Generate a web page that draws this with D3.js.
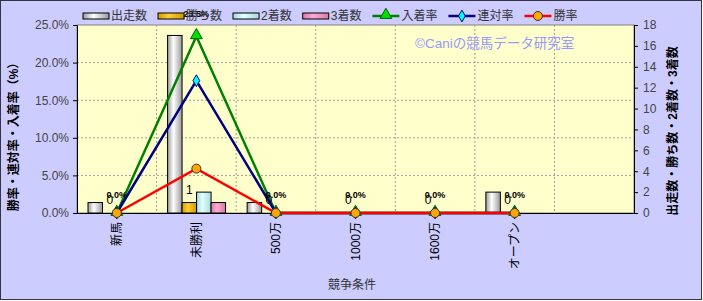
<!DOCTYPE html>
<html>
<head>
<meta charset="utf-8">
<script src="https://cdn.jsdelivr.net/npm/d3@7"></script>
<style>
body{margin:0;background:#fff;}
svg text{font-family:"Liberation Sans","Noto Sans CJK JP",sans-serif;}
</style>
</head>
<body>
<svg id="chart" width="703" height="301"></svg>
<script>
// data
var categories = ["新馬","未勝利","500万","1000万","1600万","オープン",""]
var runs    = [1,17,1,0,0,2]
var wins    = [0,1,0,0,0,0]
var seconds = [0,2,0,0,0,0]
var thirds  = [0,1,0,0,0,0]
var winRate     = [0,5.9,0,0,0,0]
var rentaiRate  = [0,17.6,0,0,0,0]
var placeRate   = [0,23.5,0,0,0,0]
var leftTicks  = [0,5,10,15,20,25]
var rightTicks = [0,2,4,6,8,10,12,14,16,18]

var W = 703, H = 301
var L = 77, R = 634, T = 25, B = 213

var svg = d3.select("#chart")

// gradients for the cylinder bars
var defs = svg.append("defs")
function grad(id, edge, mid){
	var g = defs.append("linearGradient").attr("id",id)
		.attr("x1","0%").attr("x2","100%").attr("y1","0%").attr("y2","0%")
	g.append("stop").attr("offset","0%").attr("stop-color",edge)
	g.append("stop").attr("offset","40%").attr("stop-color",mid)
	g.append("stop").attr("offset","100%").attr("stop-color",edge)
}
grad("gRuns","#9a9a9a","#ffffff")
grad("gWins","#d09a00","#ffd030")
grad("gSec","#a8dada","#e0ffff")
grad("gThi","#d77aa8","#ffaad4")

var barSeries = [
	{name:"出走数", vals:runs, fill:"url(#gRuns)"},
	{name:"勝ち数", vals:wins, fill:"url(#gWins)"},
	{name:"2着数", vals:seconds, fill:"url(#gSec)"},
	{name:"3着数", vals:thirds, fill:"url(#gThi)"}
]
var lineSeries = [
	{name:"入着率", vals:placeRate, stroke:"#008000", mark:"tri", mfill:"#00e000", mstroke:"#006000"},
	{name:"連対率", vals:rentaiRate, stroke:"#000080", mark:"dia", mfill:"#00ffff", mstroke:"#000080"},
	{name:"勝率", vals:winRate, stroke:"#ff0000", mark:"cir", mfill:"#ffa500", mstroke:"#333333"}
]

// background
svg.append("rect").attr("x",0.5).attr("y",0.5).attr("width",W-2).attr("height",H-2)
	.attr("fill","#ccccff").attr("stroke","#333344")
svg.append("rect").attr("x",L).attr("y",T).attr("width",R-L).attr("height",B-T)
	.attr("fill","#ffffcc").attr("stroke","#808080")

var x = d3.scaleBand().domain(d3.range(categories.length)).range([L,R]).padding(0)
var xi = d3.scaleBand().domain(d3.range(barSeries.length)).range([11,69])
var yL = d3.scaleLinear().domain([0,25]).range([B,T])
var yR = d3.scaleLinear().domain([0,18]).range([B,T])

// grid
svg.append("g").selectAll("line").data(leftTicks.slice(1,-1)).join("line")
	.attr("x1",L).attr("x2",R).attr("y1",d=>yL(d)).attr("y2",d=>yL(d))
	.attr("stroke","#a0a0a0").attr("stroke-dasharray","2,2")
svg.append("g").selectAll("line").data(d3.range(1,categories.length)).join("line")
	.attr("x1",d=>x(d)).attr("x2",d=>x(d)).attr("y1",T).attr("y2",B)
	.attr("stroke","#a0a0a0").attr("stroke-dasharray","2,2")

// copyright
svg.append("text").attr("x",415).attr("y",48).attr("font-size",13.5)
	.attr("fill","#9999ff").text("©Caniの競馬データ研究室")

// axes
var axL = svg.append("g").attr("transform","translate("+L+",0)")
	.call(d3.axisLeft(yL).tickValues(leftTicks).tickSize(4).tickPadding(4).tickFormat(d=>d.toFixed(1)+"%"))
var axR = svg.append("g").attr("transform","translate("+R+",0)")
	.call(d3.axisRight(yR).tickValues(rightTicks).tickSize(4).tickPadding(5))
var axB = svg.append("g").attr("transform","translate(0,"+B+")")
	.call(d3.axisBottom(x).tickSize(0).tickFormat(i=>categories[i]))
;[axL,axR,axB].forEach(function(a){
	a.select(".domain").attr("stroke","#000")
	a.selectAll(".tick line").attr("stroke","#000")
	a.selectAll("text").attr("font-size",12).attr("fill","#444")
})
axB.selectAll("text")
	.attr("transform","rotate(-90)")
	.attr("text-anchor","end")
	.attr("x",-9).attr("y",0).attr("dy","0.35em")
	.attr("fill","#000")

// bars
barSeries.forEach(function(s,si){
	svg.append("g").selectAll("rect").data(s.vals).join("rect")
		.attr("x",(d,i)=>x(i)+xi(si))
		.attr("y",d=>yR(d))
		.attr("width",xi.bandwidth())
		.attr("height",d=>B-yR(d))
		.attr("fill",s.fill)
		.attr("stroke",d=>d>0?"#000":"none")
		.attr("stroke-width",1)
})

// lines
var line = d3.line().x((d,i)=>x(i)+x.bandwidth()/2).y(d=>yL(d))
lineSeries.forEach(function(s){
	svg.append("path").datum(s.vals).attr("d",line)
		.attr("fill","none").attr("stroke",s.stroke).attr("stroke-width",2.5)
})
function marker(g, type, cx, cy, s){
	if(type=="tri") g.append("path").attr("d",d3.symbol(d3.symbolTriangle,60)()).attr("transform","translate("+cx+","+(cy-1)+")")
	else if(type=="dia") g.append("path").attr("d",d3.symbol(d3.symbolDiamond,40)()).attr("transform","translate("+cx+","+cy+")")
	else g.append("circle").attr("cx",cx).attr("cy",cy).attr("r",4.5)
	g.selectAll("*").attr("fill",s.mfill).attr("stroke",s.mstroke).attr("stroke-width",1)
}
lineSeries.forEach(function(s){
	s.vals.forEach(function(v,i){
		marker(svg.append("g"), s.mark, x(i)+x.bandwidth()/2, yL(v), s)
	})
})

// data labels
svg.append("g").selectAll("text").data(wins).join("text")
	.attr("x",(d,i)=>x(i)+xi(1)+xi.bandwidth()/2)
	.attr("y",d=>yR(d)-9)
	.attr("text-anchor","middle").attr("font-size",12).attr("fill","#000")
	.text(d=>d)
svg.append("g").selectAll("text").data(placeRate).join("text")
	.attr("x",(d,i)=>x(i)+x.bandwidth()/2)
	.attr("y",d=>d>0?yL(d)-19:yL(d)-15)
	.attr("text-anchor","middle").attr("font-size",9).attr("font-weight","bold").attr("fill","#000")
	.text(d=>d.toFixed(1)+"%")

// legend
var lx = 83, ly = 16
barSeries.forEach(function(s){
	svg.append("rect").attr("x",lx).attr("y",ly-3).attr("width",26).attr("height",6)
		.attr("fill",s.fill).attr("stroke","#000")
	var t = svg.append("text").attr("x",lx+28).attr("y",ly).attr("dy","0.35em")
		.attr("font-size",12).attr("fill","#333").text(s.name)
	lx += 28 + t.node().getComputedTextLength() + 11
})
lineSeries.forEach(function(s){
	svg.append("line").attr("x1",lx).attr("x2",lx+27).attr("y1",ly).attr("y2",ly)
		.attr("stroke",s.stroke).attr("stroke-width",2.5)
	marker(svg.append("g"), s.mark, lx+13.5, ly, s)
	var t = svg.append("text").attr("x",lx+29).attr("y",ly).attr("dy","0.35em")
		.attr("font-size",12).attr("fill","#333").text(s.name)
	lx += 29 + t.node().getComputedTextLength() + 11
})

// axis titles
svg.append("text").attr("transform","translate(18,134) rotate(-90)")
	.attr("text-anchor","middle").attr("font-size",12).attr("font-weight","bold").attr("fill","#000")
	.text("勝率・連対率・入着率（%）")
svg.append("text").attr("transform","translate(677,131) rotate(-90)")
	.attr("text-anchor","middle").attr("font-size",12).attr("font-weight","bold").attr("fill","#000")
	.text("出走数・勝ち数・2着数・3着数")
svg.append("text").attr("x",352).attr("y",289)
	.attr("text-anchor","middle").attr("font-size",12).attr("fill","#333")
	.text("競争条件")
</script>
</body>
</html>
